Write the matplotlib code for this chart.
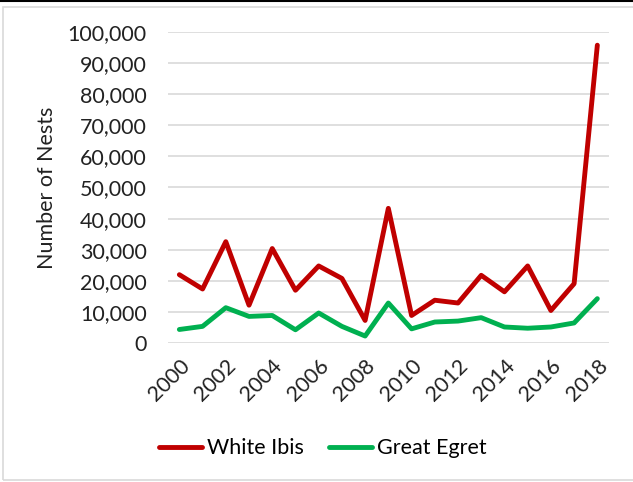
import matplotlib.pyplot as plt
from matplotlib.patches import Rectangle
from matplotlib.lines import Line2D
from matplotlib.ticker import FuncFormatter

plt.rcParams["font.family"] = ["Lato", "DejaVu Sans"]

years = [str(y) for y in range(2000, 2019)]
white_ibis = [22000, 17400, 32600, 12200, 30400, 17000, 24800, 20800, 7300, 43300,
              8900, 13800, 12900, 21800, 16500, 24800, 10500, 19100, 95700]
great_egret = [4400, 5400, 11400, 8600, 8900, 4300, 9700, 5400, 2300, 12900,
               4600, 6800, 7100, 8200, 5200, 4800, 5200, 6500, 14300]

fig = plt.figure(figsize=(6.33, 4.82), dpi=100)
ax = fig.add_axes([0.265, 0.288, 0.697, 0.646])

x = range(len(years))
ax.plot(x, white_ibis, color="#C00000", lw=3.5, solid_capstyle="round",
        solid_joinstyle="round", label="White Ibis", zorder=3)
ax.plot(x, great_egret, color="#00B050", lw=3.5, solid_capstyle="round",
        solid_joinstyle="round", label="Great Egret", zorder=3)

ax.set_xlim(-0.5, len(years) - 0.5)
ax.set_ylim(0, 100000)
ax.set_yticks(range(0, 100001, 10000))
ax.yaxis.set_major_formatter(FuncFormatter(lambda v, p: f"{int(v):,}"))
ax.set_xticks(list(x)[::2])
ax.set_xticklabels(years[::2], rotation=45, ha="right", va="top",
                   rotation_mode="anchor")
ax.grid(axis="y", color="#D9D9D9", lw=1.2)
ax.set_axisbelow(True)
for s in ax.spines.values():
    s.set_visible(False)
ax.tick_params(length=0, labelsize=15.5, colors="#222222")
ax.tick_params(axis="y", pad=15)
ax.tick_params(axis="x", pad=9)
ax.set_ylabel("Number of Nests", fontsize=15.5, color="#222222", labelpad=8)

fig.legend(loc="center", bbox_to_anchor=(0.51, 0.07), ncol=2, frameon=False,
           fontsize=15.5, handlelength=2.0, handletextpad=0.2, columnspacing=1.2)

# chart border like the spreadsheet export
fig.add_artist(Rectangle((3 / 633, 2 / 482), 640 / 633, 473 / 482, transform=fig.transFigure,
                         fill=False, edgecolor="#D9D9D9", lw=1.2))
fig.add_artist(Line2D([0, 1], [1 - 1 / 482, 1 - 1 / 482], transform=fig.transFigure,
                      color="black", lw=1.5))

fig.savefig("out.png", dpi=100)
